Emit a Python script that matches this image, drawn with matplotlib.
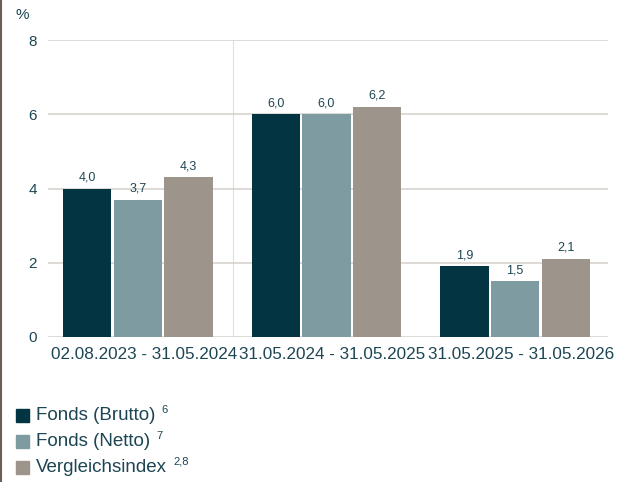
import numpy as np
import matplotlib.pyplot as plt
import matplotlib.transforms as mtransforms
from matplotlib.patches import Rectangle
from matplotlib.lines import Line2D

plt.rcParams['font.family'] = ['Liberation Sans', 'DejaVu Sans']

periods = ['02.08.2023 - 31.05.2024', '31.05.2024 - 31.05.2025', '31.05.2025 - 31.05.2026']
series_names = ['Fonds (Brutto)', 'Fonds (Netto)', 'Vergleichsindex']
series_notes = ['6', '7', '2,8']
brutto = [4.0, 6.0, 1.9]
netto = [3.7, 6.0, 1.5]
index_vals = [4.3, 6.2, 2.1]
colors = ['#023442', '#7f9ba2', '#9d948c']
txt = '#1d4654'

fig = plt.figure(figsize=(6.18, 4.82), dpi=100)
ax = fig.add_axes([48/618, 1-337/482, 560/618, 297/482])

x = np.arange(len(periods))
w = 0.255
step = 0.268
for i, vals in enumerate([brutto, netto, index_vals]):
    pos = x + (i-1)*step
    ax.bar(pos, vals, width=w, color=colors[i], zorder=3)
    for p, v in zip(pos, vals):
        ax.text(p, v+0.14, f'{v:.1f}'.replace('.', ','), ha='center', va='bottom',
                fontsize=9, color=txt)

ax.set_xlim(-0.477, 2.493)
ax.set_ylim(0, 8)
ax.set_yticks([0, 2, 4, 6, 8])
ax.yaxis.grid(True, color='#d8d3ce', linewidth=1.2, zorder=0)
ax.axvline(0.504, color='#e2dedb', linewidth=0.8, zorder=1)
ax.set_xticks(x)
ax.set_xticklabels(periods)
ax.tick_params(axis='both', length=0, colors=txt)
ax.tick_params(axis='y', pad=8, labelsize=11)
ax.tick_params(axis='x', pad=7, labelsize=12.3)
shift = mtransforms.ScaledTranslation(6/100, 0, fig.dpi_scale_trans)
for lbl in ax.get_xticklabels():
    lbl.set_transform(lbl.get_transform() + shift)
for s in ax.spines.values():
    s.set_visible(False)

fig.text(16/618, 1-15/482, '%', fontsize=11, color=txt, ha='left', va='center')

# left border
fig.add_artist(Line2D([1.5/618, 1.5/618], [0, 1], color='#6b5e58', linewidth=1.5))

# legend
renderer = fig.canvas.get_renderer()
rows_y = [415, 441, 467]
for name, note, c, yy in zip(series_names, series_notes, colors, rows_y):
    fig.add_artist(Rectangle((16/618, 1-(yy+6.5)/482), 13/618, 13/482, color=c,
                             transform=fig.transFigure))
    t = fig.text(36/618, 1-yy/482, name, fontsize=13.5, color=txt, ha='left', va='center')
    bb = t.get_window_extent(renderer)
    fig.text((bb.x1 + 6)/618, 1-(yy-5)/482, note, fontsize=8, color=txt,
             ha='left', va='center')

fig.savefig('out.png', dpi=100)
